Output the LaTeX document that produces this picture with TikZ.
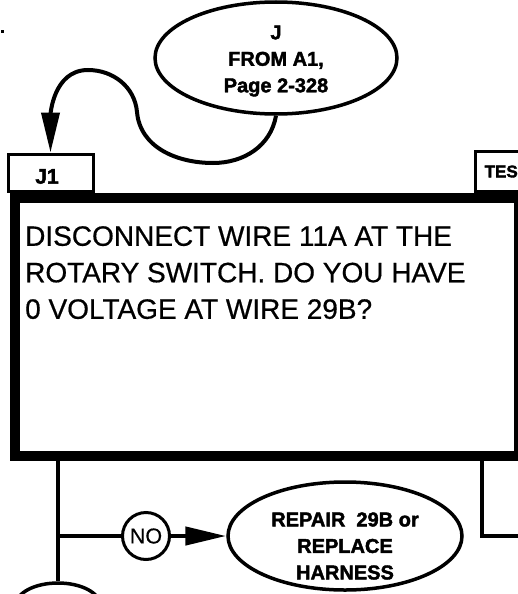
\documentclass[tikz,border=0pt]{standalone}
\usepackage{fontspec}
\setmainfont{Liberation Sans}
\newfontfamily\heavyfont{Liberation Sans Bold}[FakeBold=2]
\newfontfamily\plainfont{Liberation Sans}[FakeBold=0.6]
\usetikzlibrary{shapes.geometric,arrows.meta}
\begin{document}
\begin{tikzpicture}[x=1pt,y=-1pt,
  lbl/.style={font=\heavyfont\fontsize{21}{24}\selectfont, inner sep=0},
  ovaltext/.style={font=\heavyfont\fontsize{20}{26.5}\selectfont, align=center, inner sep=0},
  oval/.style={ellipse, draw, line width=3.5pt, inner sep=0},
  tab/.style={draw, line width=3pt, inner sep=0, anchor=north west},
  wire/.style={line width=4.5pt},
  curvewire/.style={line width=4pt},
  bigarrow/.style={-{Triangle[length=40pt,width=18pt]}}]
\useasboundingbox (0,0) rectangle (518,594);
\clip (0,0) rectangle (518,594);

% small mark
\fill (1,30) rectangle (4,33);

% top oval
\node[oval, minimum width=242pt, minimum height=112pt] (ja) at (276,58) {};
\node[ovaltext] (jat) at (276,61) {J\\FROM A1,\\Page 2-328};

% tabs
\node[tab, minimum width=85pt, minimum height=37pt] (j1) at (6.5,152.5) {};
\node[lbl] (j1t) at (47,176.5) {J1};
\node[tab, minimum width=60pt, minimum height=40pt] (tes) at (473.5,149.5) {};
\node[lbl, anchor=west, font=\heavyfont\fontsize{17}{20}\selectfont] (test) at (484.5,171.5) {TES};

% main box
\node[draw, line width=10pt, inner sep=0, anchor=north west,
      minimum width=504pt, minimum height=258pt] (main) at (10,193) {};
\node[anchor=north west, inner sep=0, align=left,
      font=\plainfont\fontsize{28}{36.5}\selectfont] (q) at (25,226)
  {DISCONNECT WIRE 11A AT THE\\ROTARY SWITCH. DO YOU HAVE\\0 VOLTAGE AT WIRE 29B?};

% curve from J to J1
\coordinate (c1) at (213,163);
\coordinate (c2) at (137,112);
\coordinate (c3) at (88,70);
\draw[curvewire, bigarrow] (ja.south) to[out=-100,in=0] (c1)
  to[out=180,in=-85] (c2) to[out=95,in=0] (c3) to[out=180,in=90] (j1.north);

% lower branches
\node[oval, minimum width=234pt, minimum height=108pt] (rep) at (345,536) {};
\node[ovaltext] (rept) at (345,546) {REPAIR\ \ 29B or\\REPLACE\\HARNESS};
\node[circle, draw, line width=3pt, minimum size=47pt, inner sep=0,
      font=\plainfont\fontsize{21.5}{24}\selectfont] (no) at (146,536) {NO};
\node[oval, minimum width=84pt, minimum height=44pt] (yes) at (58,605) {};

\coordinate (mbl) at (58,451);
\coordinate (br) at (58,536);
\coordinate (mbr) at (482,451);
\coordinate (rt) at (530,536);
\draw[wire] (mbl) -- (yes.north);
\draw[wire] (br) -- (no.west);
\draw[wire, -{Triangle[length=41pt,width=18pt]}] (no.east) -- (rep.west);
\draw[wire] (mbr) |- (rt);
\end{tikzpicture}
\end{document}
